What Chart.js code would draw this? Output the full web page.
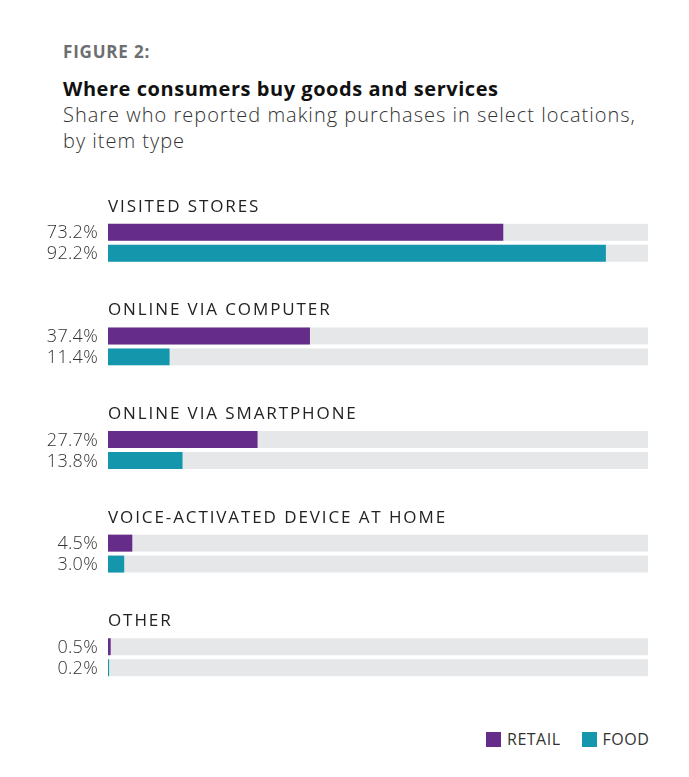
<!DOCTYPE html>
<html>
<head>
<meta charset="utf-8">
<script src="https://cdn.jsdelivr.net/npm/chart.js@4/dist/chart.umd.min.js"></script>
<style>
  body { margin: 0; background: #fff; font-family: "Open Sans", Lato, sans-serif; }
  #page { position: relative; width: 689px; height: 777px; }
  .txt { position: absolute; left: 63px; white-space: nowrap; }
  #fig { top: 40px; font-size: 17px; font-weight: 700; color: #6d6e71; letter-spacing: 0.8px; }
  #title { top: 75px; font-size: 20px; font-weight: 700; color: #111; letter-spacing: 0.55px; }
  #sub { top: 102px; font-size: 20px; font-weight: 300; color: #333; line-height: 26px; letter-spacing: 1px; }
  #chartBox { position: absolute; left: 0; top: 180px; width: 689px; height: 540px; }
  #legend { position: absolute; top: 728px; left: 486px; font-size: 16px; color: #333; display: flex; align-items: center; letter-spacing: 0.5px; }
  .sw { width: 15px; height: 15px; display: inline-block; margin-right: 6px; }
</style>
</head>
<body>
<div id="page">
  <div class="txt" id="fig">FIGURE 2:</div>
  <div class="txt" id="title">Where consumers buy goods and services</div>
  <div class="txt" id="sub">Share who reported making purchases in select locations,<br>by item type</div>
  <div id="chartBox"><canvas id="chart"></canvas></div>
  <div id="legend">
    <span class="sw" style="background:#652d89"></span><span style="margin-right:21px">RETAIL</span>
    <span class="sw" style="background:#1497ad"></span><span>FOOD</span>
  </div>
</div>
<script>
// === Data ===
const categories = ['VISITED STORES', 'ONLINE VIA COMPUTER', 'ONLINE VIA SMARTPHONE', 'VOICE-ACTIVATED DEVICE AT HOME', 'OTHER'];
const retailValues = [73.2, 37.4, 27.7, 4.5, 0.5];
const foodValues = [92.2, 11.4, 13.8, 3.0, 0.2];
const seriesNames = ['RETAIL', 'FOOD'];

const purple = '#652d89';
const teal = '#1497ad';
const track = '#e6e7e8';

// gray track behind every bar, 0..100
const trackPlugin = {
  id: 'track',
  beforeDatasetsDraw(chart) {
    const ctx = chart.ctx;
    const x = chart.scales.x;
    const x0 = x.getPixelForValue(0);
    const x1 = x.getPixelForValue(100);
    ctx.save();
    ctx.fillStyle = track;
    chart.data.datasets.forEach((ds, di) => {
      chart.getDatasetMeta(di).data.forEach(bar => {
        ctx.fillRect(x0, bar.y - bar.height / 2, x1 - x0, bar.height);
      });
    });
    ctx.restore();
  }
};

// value labels on the left + category titles above each group
const labelPlugin = {
  id: 'labels',
  afterDatasetsDraw(chart) {
    const ctx = chart.ctx;
    const left = chart.chartArea.left;
    ctx.save();
    ctx.textBaseline = 'middle';
    ctx.fillStyle = '#333';
    ctx.font = '300 18px "Open Sans", sans-serif';
    ctx.letterSpacing = '0.3px';
    ctx.textAlign = 'right';
    chart.data.datasets.forEach((ds, di) => {
      chart.getDatasetMeta(di).data.forEach((bar, i) => {
        ctx.fillText(ds.data[i].toFixed(1) + '%', left - 10, bar.y + 1);
      });
    });
    ctx.textAlign = 'left';
    ctx.fillStyle = '#222';
    ctx.font = '400 17px "Open Sans", sans-serif';
    ctx.letterSpacing = '1.9px';
    chart.getDatasetMeta(0).data.forEach((bar, i) => {
      const top = bar.y - bar.height / 2;
      ctx.fillText(chart.data.labels[i], left, top - 17);
    });
    ctx.restore();
  }
};

new Chart(document.getElementById('chart'), {
  type: 'bar',
  data: {
    labels: categories,
    datasets: [
      { label: seriesNames[0], data: retailValues, backgroundColor: purple },
      { label: seriesNames[1], data: foodValues, backgroundColor: teal }
    ]
  },
  options: {
    indexAxis: 'y',
    responsive: true,
    maintainAspectRatio: false,
    animation: false,
    categoryPercentage: 0.404,
    barPercentage: 0.81,
    layout: { padding: { left: 108, right: 41, top: 11, bottom: 11 } },
    scales: {
      x: { display: false, min: 0, max: 100 },
      y: { display: false }
    },
    plugins: {
      legend: { display: false },
      tooltip: { enabled: false }
    }
  },
  plugins: [trackPlugin, labelPlugin]
});
</script>
</body>
</html>
